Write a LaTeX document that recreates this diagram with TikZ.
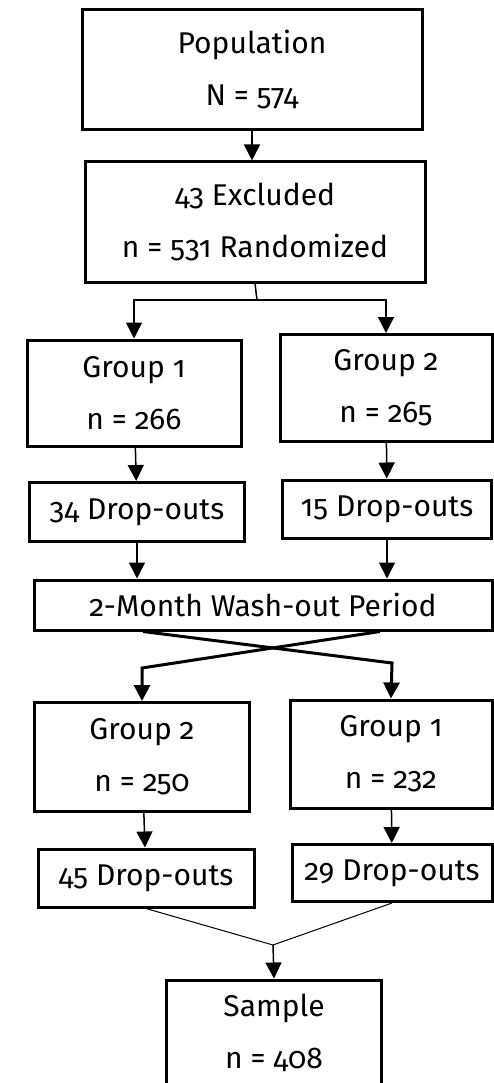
\documentclass[tikz,border=0pt]{standalone}
\usepackage{fontspec}
\setmainfont[Numbers=OldStyle]{Fira Sans}
\usetikzlibrary{arrows.meta}
\begin{document}
\begin{tikzpicture}[x=1pt,y=-1pt,
  box/.style={draw,line width=3pt,inner sep=0pt,align=center,
    font=\fontsize{30}{52}\selectfont},
  arr/.style={line width=1.5pt,-{Triangle[length=16pt,width=16pt]}},
  cross/.style={line width=3pt,-{Triangle[length=16pt,width=16pt]}},
  merge/.style={line width=1pt}]
 \useasboundingbox (0,0) rectangle (494,1083);
 % top part
 \node[box,minimum width=340pt,minimum height=120pt] (pop) at (252,70) {Population\\N = 574};
 \node[box,minimum width=340pt,minimum height=120pt] (excl) at (255,222) {43 Excluded\\n = 531 Randomized};
 \node[box,minimum width=214pt,minimum height=106pt] (g1a) at (134,393) {Group 1\\n = 266};
 \node[box,minimum width=212pt,minimum height=107pt] (g2a) at (386,388) {Group 2\\n = 265};
 \node[box,minimum width=215pt,minimum height=59pt] (d1a) at (137,512) {34 Drop-outs};
 \node[box,minimum width=209pt,minimum height=58pt] (d2a) at (387,509) {15 Drop-outs};
 \node[box,minimum width=458pt,minimum height=50pt] (wash) at (263,605) {2-Month Wash-out Period};
 % after wash-out
 \node[box,minimum width=215pt,minimum height=109pt] (g2b) at (142,757) {Group 2\\n = 250};
 \node[box,minimum width=202pt,minimum height=108pt] (g1b) at (391,754) {Group 1\\n = 232};
 \node[box,minimum width=216pt,minimum height=58pt] (d2b) at (146,878) {45 Drop-outs};
 \node[box,minimum width=200pt,minimum height=57pt] (d1b) at (392,873) {29 Drop-outs};
 \node[box,minimum width=215pt,minimum height=106pt] (sample) at (274,1033) {Sample\\n = 408};
 \coordinate (split) at (257,300);
 \coordinate (kl) at (142,668);
 \coordinate (kr) at (392,663);
 \coordinate (join) at (273,945);
 \draw[arr] (pop.south) -- (pop.south |- excl.north);
 \draw[line width=1.5pt] (excl.south) -- (split);
 \draw[arr] (split) -| (g1a.north);
 \draw[arr] (split) -| (g2a.north);
 \draw[arr] (g1a) -- (d1a);
 \draw[arr] (g2a) -- (d2a);
 \draw[arr] (d1a.south) -- (d1a.south |- wash.north);
 \draw[arr] (d2a.south) -- (d2a.south |- wash.north);
 \draw[cross] ([xshift=117pt]wash.south) -- (kl) -- (g2b.north);
 \draw[cross] ([xshift=-120pt]wash.south) -- (kr) -- (g1b.north);
 \draw[arr] (g2b) -- (d2b);
 \draw[arr] (g1b) -- (d1b);
 \draw[merge] (d2b.south) -- (join) -- (d1b.south);
 \draw[arr] (join) -- (sample.north);
\end{tikzpicture}
\end{document}
